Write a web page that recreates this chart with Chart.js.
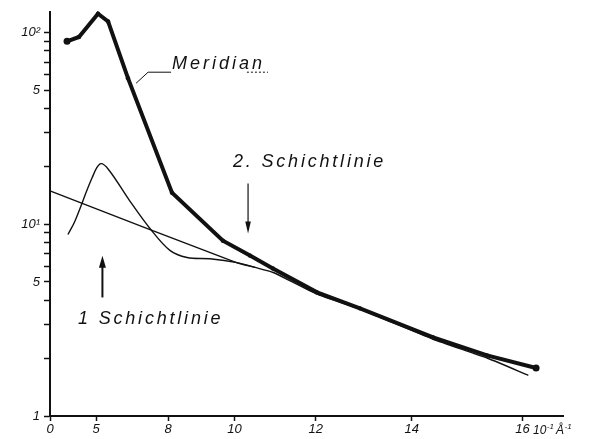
<!DOCTYPE html>
<html>
<head>
<meta charset="utf-8">
<script src="https://cdn.jsdelivr.net/npm/chart.js@4.4.1/dist/chart.umd.min.js"></script>
<style>
  html, body { margin: 0; padding: 0; background: #fff; }
  canvas { display: block; }
</style>
</head>
<body>
<canvas id="c" width="590" height="439"></canvas>
<script>
// Scattering vector s (10^-1 Å^-1) and intensity (log scale).
// The abscissa is laid out proportional to s², labelled in s.
const meridianS = [3.04, 3.96, 5.10, 5.61, 6.50, 8.13, 9.68, 10.41, 10.99, 12.03, 12.96, 14.41, 15.39, 16.23];
const meridianI = [89.8, 94.6, 125, 114, 57.7, 14.6, 8.2, 6.86, 5.87, 4.41, 3.64, 2.57, 2.07, 1.78];

const layerS = [3.12, 3.68, 4.77, 5.21, 5.61, 6.58, 7.36, 8.06, 8.62, 9.31, 10.07, 10.54];
const layerI = [8.83, 10.4, 17.4, 20.6, 19.4, 13.2, 9.5, 7.3, 6.7, 6.6, 6.3, 5.95];

const backgroundS = [0, 10.07, 10.54, 11.0, 12.0, 13.0, 14.4, 15.4, 16.1];
const backgroundI = [14.9, 6.28, 5.95, 5.6, 4.35, 3.58, 2.52, 2.0, 1.63];

const xTickS = [0, 5, 8, 10, 12, 14, 16];
const yTickValues = [1, 2, 3, 4, 5, 6, 7, 8, 9, 10, 20, 30, 40, 50, 60, 70, 80, 90, 100];
const yTickLabels = { 1: '1', 5: '5', 10: '10¹', 50: '5', 100: '10²' };

const toPoints = (sArr, iArr) => sArr.map((s, k) => ({ x: s * s, y: iArr[k] }));

const INK = '#111';
const FAMILY = '"Liberation Sans", "DejaVu Sans", sans-serif';
const LETTERING = 'italic 18px ' + FAMILY;

// Widely spaced lettering, character by character
function spacedText(ctx, text, x, y, spacing) {
  let cx = x;
  for (const ch of text) {
    ctx.fillText(ch, cx, y);
    cx += ctx.measureText(ch).width + spacing;
  }
}

function arrow(ctx, x, yFrom, yTo, width, headLen, headHalf) {
  const dir = Math.sign(yTo - yFrom);
  ctx.lineWidth = width;
  ctx.beginPath();
  ctx.moveTo(x, yFrom);
  ctx.lineTo(x, yTo - dir * headLen * 0.6);
  ctx.stroke();
  ctx.beginPath();
  ctx.moveTo(x, yTo);
  ctx.lineTo(x - headHalf, yTo - dir * headLen);
  ctx.lineTo(x + headHalf, yTo - dir * headLen);
  ctx.closePath();
  ctx.fill();
}

// Unit "10⁻¹ Å⁻¹" built from base text and raised exponents
function unitLabel(ctx, x, y) {
  const parts = [['10', 0], ['-1', 1], ['Å', 0], ['-1', 1]];
  let cx = x;
  for (const [t, sup] of parts) {
    ctx.font = (sup ? 'italic 8px ' : 'italic 12px ') + FAMILY;
    ctx.fillText(t, cx, sup ? y - 5 : y);
    cx += ctx.measureText(t).width + (sup ? 2 : 0.5);
  }
}

const annotations = {
  id: 'annotations',
  afterDatasetsDraw(chart) {
    const ctx = chart.ctx;
    const X = s => chart.scales.x.getPixelForValue(s * s);
    const Y = v => chart.scales.y.getPixelForValue(v);
    ctx.save();
    ctx.fillStyle = INK;
    ctx.strokeStyle = INK;
    ctx.font = LETTERING;
    ctx.textBaseline = 'alphabetic';

    // "Meridian" with leader line
    spacedText(ctx, 'Meridian', X(8.13), Y(64.2), 3);
    ctx.lineWidth = 1;
    ctx.beginPath();
    ctx.moveTo(X(6.83), Y(54.3));
    ctx.lineTo(X(7.29), Y(62));
    ctx.lineTo(X(8.1), Y(62));
    ctx.stroke();
    ctx.setLineDash([2, 2]);
    ctx.beginPath();
    ctx.moveTo(X(10.33), Y(62));
    ctx.lineTo(X(10.87), Y(62));
    ctx.stroke();
    ctx.setLineDash([]);

    // 2nd layer line
    spacedText(ctx, '2. Schichtlinie', X(9.96), Y(19.9), 2.8);
    arrow(ctx, X(10.36), Y(16.3), Y(8.93), 1.2, 12, 2.8);

    // 1st layer line
    spacedText(ctx, '1 Schichtlinie', X(3.9), Y(3.0), 2.8);
    arrow(ctx, X(5.33), Y(4.15), Y(6.85), 2, 12, 3.5);

    // unit of the abscissa
    ctx.textAlign = 'left';
    ctx.textBaseline = 'alphabetic';
    unitLabel(ctx, chart.chartArea.right - 30, chart.chartArea.bottom + 18);
    ctx.restore();
  }
};

const tickFont = { family: FAMILY, size: 13, style: 'italic' };

new Chart(document.getElementById('c'), {
  type: 'line',
  data: {
    datasets: [
      {
        label: 'Meridian',
        data: toPoints(meridianS, meridianI),
        borderColor: INK,
        backgroundColor: INK,
        borderWidth: 4,
        tension: 0,
        pointRadius: ctx => (ctx.dataIndex === 0 || ctx.dataIndex === meridianS.length - 1) ? 3.5 : 2.2,
        pointBorderWidth: 0,
        pointBackgroundColor: INK,
        clip: false
      },
      {
        label: '1. Schichtlinie',
        data: toPoints(layerS, layerI),
        borderColor: INK,
        borderWidth: 1.4,
        tension: 0.35,
        pointRadius: 0,
        clip: false
      },
      {
        label: 'Untergrund',
        data: toPoints(backgroundS, backgroundI),
        borderColor: INK,
        borderWidth: 1.4,
        tension: 0.2,
        pointRadius: 0,
        clip: false
      }
    ]
  },
  options: {
    responsive: false,
    animation: false,
    events: [],
    layout: { padding: { top: 10, right: 27, bottom: 0, left: 0 } },
    plugins: { legend: { display: false }, tooltip: { enabled: false } },
    scales: {
      x: {
        type: 'linear',
        min: 0,
        max: 278,
        afterBuildTicks: scale => { scale.ticks = xTickS.map(s => ({ value: s * s })); },
        afterFit: scale => { scale.height = 23; },
        ticks: {
          autoSkip: false,
          maxRotation: 0,
          padding: 1,
          color: INK,
          font: tickFont,
          callback: v => String(Math.round(Math.sqrt(v)))
        },
        grid: { drawOnChartArea: false, drawTicks: true, tickLength: 5, tickColor: INK, tickWidth: 1.5 },
        border: { display: true, color: INK, width: 2 }
      },
      y: {
        type: 'logarithmic',
        min: 1,
        max: 128,
        afterBuildTicks: scale => { scale.ticks = yTickValues.map(v => ({ value: v })); },
        afterFit: scale => { scale.width = 50; },
        ticks: {
          autoSkip: false,
          padding: 4,
          color: INK,
          font: tickFont,
          callback: v => yTickLabels[v] ?? ''
        },
        grid: { drawOnChartArea: false, drawTicks: true, tickLength: 6, tickColor: INK, tickWidth: 1.5 },
        border: { display: true, color: INK, width: 2 }
      }
    }
  },
  plugins: [annotations]
});
</script>
</body>
</html>
